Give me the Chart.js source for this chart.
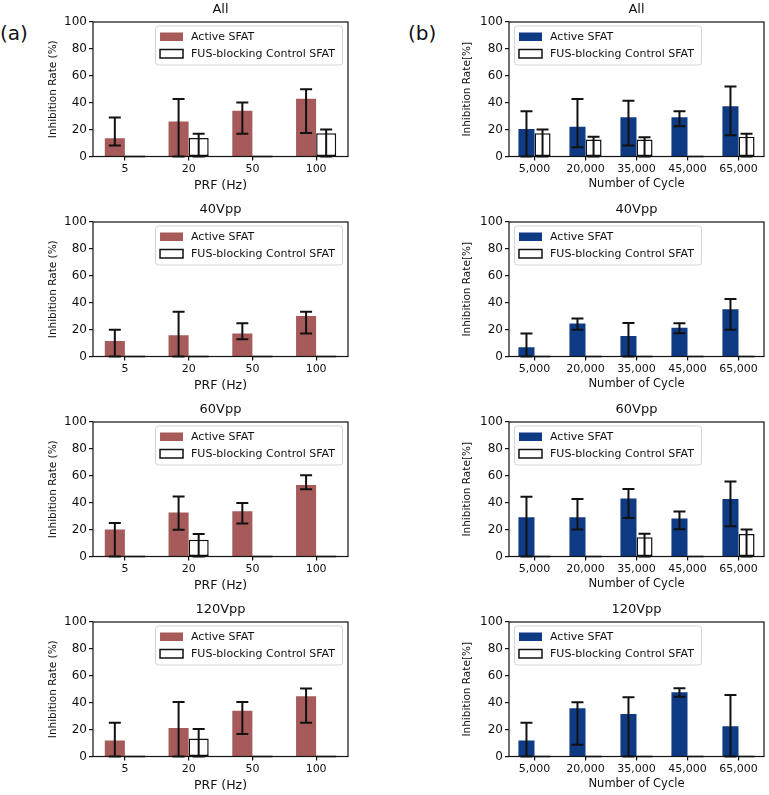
<!DOCTYPE html>
<html><head><meta charset="utf-8">
<script src="https://cdn.jsdelivr.net/npm/chart.js@4"></script>
<style>
html,body{margin:0;padding:0;background:#fff;}
body{width:769px;height:795px;position:relative;overflow:hidden;font-family:'DejaVu Sans',sans-serif;}
.cv{position:absolute;}
.lbl{position:absolute;font-size:20px;color:#111;line-height:24px;}
</style></head><body>
<div class="lbl" style="left:0px;top:21px">(a)</div>
<div class="lbl" style="left:408px;top:21px">(b)</div>
<canvas id="a0" class="cv" width="380" height="200" style="left:0;top:0"></canvas>
<canvas id="a1" class="cv" width="380" height="200" style="left:0;top:200px"></canvas>
<canvas id="a2" class="cv" width="380" height="200" style="left:0;top:400px"></canvas>
<canvas id="a3" class="cv" width="380" height="200" style="left:0;top:600px"></canvas>
<canvas id="b0" class="cv" width="384" height="200" style="left:385px;top:0"></canvas>
<canvas id="b1" class="cv" width="384" height="200" style="left:385px;top:200px"></canvas>
<canvas id="b2" class="cv" width="384" height="200" style="left:385px;top:400px"></canvas>
<canvas id="b3" class="cv" width="384" height="200" style="left:385px;top:600px"></canvas>
<script>
// ---------- data ----------
const prfLabels = ['5', '20', '50', '100'];
const cycleLabels = ['5,000', '20,000', '35,000', '45,000', '65,000'];
const panelTitles = ['All', '40Vpp', '60Vpp', '120Vpp'];
const seriesNames = ['Active SFAT', 'FUS-blocking Control SFAT'];
const yTickValues = [0, 20, 40, 60, 80, 100];

// (a) PRF panels
const prfAllActive      = [13.6, 26.0, 34.0, 43.0];
const prfAllActiveLow   = [8.2, 0, 17.0, 17.5];
const prfAllActiveHigh  = [29.0, 42.7, 40.2, 50.0];
const prfAllControl     = [0, 13.8, 0, 17.3];
const prfAllControlLow  = [0, 0, 0, 0];
const prfAllControlHigh = [0, 17.0, 0, 20.0];

const prf40Active      = [11.6, 15.8, 17.1, 30.2];
const prf40ActiveLow   = [0, 0, 12.9, 17.1];
const prf40ActiveHigh  = [19.8, 33.2, 24.8, 33.2];
const prf40Control     = [0, 0, 0, 0];
const prf40ControlLow  = [0, 0, 0, 0];
const prf40ControlHigh = [0, 0, 0, 0];

const prf60Active      = [20.1, 32.8, 33.6, 53.2];
const prf60ActiveLow   = [0, 19.9, 24.6, 50.0];
const prf60ActiveHigh  = [24.9, 44.7, 39.8, 60.5];
const prf60Control     = [0, 12.4, 0, 0];
const prf60ControlLow  = [0, 0, 0, 0];
const prf60ControlHigh = [0, 16.8, 0, 0];

const prf120Active      = [11.9, 21.1, 34.1, 44.8];
const prf120ActiveLow   = [0, 0, 16.7, 25.1];
const prf120ActiveHigh  = [25.1, 40.5, 40.5, 50.5];
const prf120Control     = [0, 13.4, 0, 0];
const prf120ControlLow  = [0, 0, 0, 0];
const prf120ControlHigh = [0, 20.4, 0, 0];

// (b) Number of cycle panels
const cycAllActive      = [20.5, 22.2, 29.1, 29.1, 37.3];
const cycAllActiveLow   = [0, 6.9, 8.1, 22.5, 15.8];
const cycAllActiveHigh  = [33.6, 42.7, 41.5, 33.6, 52.0];
const cycAllControl     = [17.3, 12.6, 12.6, 0, 14.6];
const cycAllControlLow  = [0, 0, 0, 0, 0];
const cycAllControlHigh = [20.0, 14.6, 14.3, 0, 17.0];

const cyc40Active      = [6.9, 24.5, 15.3, 21.3, 35.1];
const cyc40ActiveLow   = [0, 19.8, 0, 17.3, 19.8];
const cyc40ActiveHigh  = [17.1, 28.2, 25.0, 24.8, 42.8];
const cyc40Control     = [0, 0, 0, 0, 0];
const cyc40ControlLow  = [0, 0, 0, 0, 0];
const cyc40ControlHigh = [0, 0, 0, 0, 0];

const cyc60Active      = [29.1, 29.1, 43.2, 28.2, 42.8];
const cyc60ActiveLow   = [0, 20.1, 28.6, 20.2, 22.4];
const cyc60ActiveHigh  = [44.5, 42.8, 50.2, 33.4, 55.8];
const cyc60Control     = [0, 0, 14.4, 0, 16.8];
const cyc60ControlLow  = [0, 0, 0, 0, 0];
const cyc60ControlHigh = [0, 0, 16.9, 0, 20.0];

const cyc120Active      = [11.9, 35.8, 31.6, 47.8, 22.4];
const cyc120ActiveLow   = [0, 8.7, 0, 44.5, 0];
const cyc120ActiveHigh  = [25.1, 40.3, 44.0, 50.7, 45.8];
const cyc120Control     = [0, 0, 0, 0, 0];
const cyc120ControlLow  = [0, 0, 0, 0, 0];
const cyc120ControlHigh = [0, 0, 0, 0, 0];

// ---------- styles ----------
const FONT = "'DejaVu Sans', sans-serif";
const INK = '#111111';
const prfColor = '#a65a5a';
const cycColor = '#0f3b84';

// ---------- plugins ----------
const framePlugin = {
  id: 'frame',
  afterDatasetsDraw(chart) {
    const {ctx, chartArea: a} = chart;
    const y = chart.scales.y;
    const y0 = y.getPixelForValue(0);
    ctx.save();
    // zero-height outlined bars drawn as a flat edge line
    chart.data.datasets.forEach((ds, di) => {
      if (!ds.borderWidth) return;
      const meta = chart.getDatasetMeta(di);
      meta.data.forEach((el, i) => {
        if (ds.data[i] === 0) {
          ctx.strokeStyle = INK; ctx.lineWidth = 1.6;
          ctx.beginPath();
          ctx.moveTo(el.x - el.width / 2, y0);
          ctx.lineTo(el.x + el.width / 2, y0);
          ctx.stroke();
        }
      });
    });
    // error bars
    chart.data.datasets.forEach((ds, di) => {
      const meta = chart.getDatasetMeta(di);
      meta.data.forEach((el, i) => {
        const lo = ds.errLow[i], hi = ds.errHigh[i];
        if (hi === lo) return;
        const yl = y.getPixelForValue(lo), yh = y.getPixelForValue(hi);
        const cap = 6;
        ctx.strokeStyle = INK; ctx.lineWidth = 2;
        ctx.beginPath();
        ctx.moveTo(el.x, yl); ctx.lineTo(el.x, yh);
        ctx.moveTo(el.x - cap, yh); ctx.lineTo(el.x + cap, yh);
        ctx.moveTo(el.x - cap, yl); ctx.lineTo(el.x + cap, yl);
        ctx.stroke();
      });
    });
    ctx.restore();
  },
  afterDraw(chart, args, opts) {
    const {ctx, chartArea: a} = chart;
    ctx.save();
    ctx.strokeStyle = INK; ctx.lineWidth = 1.2;
    ctx.strokeRect(a.left, a.top, a.width, a.height);
    // legend box
    ctx.font = '11px ' + FONT;
    const dss = chart.data.datasets;
    const tw = Math.max(...dss.map(d => ctx.measureText(d.label).width));
    const w = 5 + 23 + 8 + tw + 7, h = 39;
    const x = opts.side === 'right' ? a.right - 6 - w : a.left + 5;
    const y = a.top + 3.5;
    ctx.beginPath();
    ctx.roundRect(x + 0.5, y + 0.5, w, h, 3);
    ctx.fillStyle = 'rgba(255,255,255,0.85)';
    ctx.fill();
    ctx.strokeStyle = '#d4d4d4'; ctx.lineWidth = 1;
    ctx.stroke();
    dss.forEach((d, i) => {
      const py = y + 7 + i * 17;
      ctx.fillStyle = d.backgroundColor;
      ctx.fillRect(x + 5, py, 23, 8.5);
      if (d.borderWidth) {
        ctx.strokeStyle = INK; ctx.lineWidth = 1.5;
        ctx.strokeRect(x + 5, py, 23, 8.5);
      }
      ctx.fillStyle = INK;
      ctx.textBaseline = 'middle';
      ctx.textAlign = 'left';
      ctx.fillText(d.label, x + 36, py + 5);
    });
    ctx.restore();
  }
};

function makePanel(id, col, title, labels, act, actLo, actHi, ctl, ctlLo, ctlHi) {
  const isA = col === 'a';
  const color = isA ? prfColor : cycColor;
  new Chart(document.getElementById(id), {
    type: 'bar',
    data: {
      labels: labels,
      datasets: [
        { label: seriesNames[0], data: act, errLow: actLo, errHigh: actHi,
          backgroundColor: color, borderWidth: 0,
          categoryPercentage: 0.63, barPercentage: 1.0 },
        { label: seriesNames[1], data: ctl, errLow: ctlLo, errHigh: ctlHi,
          backgroundColor: '#ffffff', borderColor: INK, borderWidth: 1.5, borderSkipped: false,
          categoryPercentage: 0.63, barPercentage: 1.0 }
      ]
    },
    plugins: [framePlugin],
    options: {
      responsive: false, animation: false, devicePixelRatio: 1,
      layout: { padding: isA ? { left: 43, right: 32, top: 0, bottom: 2.5 }
                             : { left: 72, right: 5, top: 0, bottom: 5 } },
      plugins: {
        legend: { display: false },
        tooltip: { enabled: false },
        title: { display: true, text: title, fullSize: false, color: INK,
                 font: { family: FONT, size: 13, weight: 'normal' },
                 padding: { top: 2, bottom: 4.4 } },
        frame: { side: isA ? 'right' : 'left' }
      },
      scales: {
        x: {
          offset: true,
          grid: { offset: false, drawOnChartArea: false, drawTicks: true, tickLength: 4, color: INK, lineWidth: 1.2 },
          border: { display: false },
          ticks: { color: INK, font: { family: FONT, size: 11 }, padding: 2, maxRotation: 0 },
          title: { display: true, text: isA ? 'PRF (Hz)' : 'Number of Cycle', color: INK,
                   font: { family: FONT, size: isA ? 12.5 : 11.5 }, padding: { top: 0, bottom: 4 } },
          afterFit: s => { s.height = isA ? 41 : 38.5; }
        },
        y: {
          min: 0, max: 100,
          afterBuildTicks: s => { s.ticks = yTickValues.map(v => ({ value: v })); },
          grid: { drawOnChartArea: false, drawTicks: true, tickLength: 4, color: INK, lineWidth: 1.2 },
          border: { display: false },
          ticks: { color: INK, font: { family: FONT, size: 12 }, padding: 2 },
          title: { display: true, text: isA ? 'Inhibition Rate (%)' : 'Inhibition Rate[%]', color: INK,
                   font: { family: FONT, size: 10.5 }, padding: { top: 4, bottom: 4 } },
          afterFit: s => { s.width = isA ? 50 : 52; }
        }
      }
    }
  });
}

makePanel('a0', 'a', panelTitles[0], prfLabels, prfAllActive, prfAllActiveLow, prfAllActiveHigh, prfAllControl, prfAllControlLow, prfAllControlHigh);
makePanel('a1', 'a', panelTitles[1], prfLabels, prf40Active, prf40ActiveLow, prf40ActiveHigh, prf40Control, prf40ControlLow, prf40ControlHigh);
makePanel('a2', 'a', panelTitles[2], prfLabels, prf60Active, prf60ActiveLow, prf60ActiveHigh, prf60Control, prf60ControlLow, prf60ControlHigh);
makePanel('a3', 'a', panelTitles[3], prfLabels, prf120Active, prf120ActiveLow, prf120ActiveHigh, prf120Control, prf120ControlLow, prf120ControlHigh);
makePanel('b0', 'b', panelTitles[0], cycleLabels, cycAllActive, cycAllActiveLow, cycAllActiveHigh, cycAllControl, cycAllControlLow, cycAllControlHigh);
makePanel('b1', 'b', panelTitles[1], cycleLabels, cyc40Active, cyc40ActiveLow, cyc40ActiveHigh, cyc40Control, cyc40ControlLow, cyc40ControlHigh);
makePanel('b2', 'b', panelTitles[2], cycleLabels, cyc60Active, cyc60ActiveLow, cyc60ActiveHigh, cyc60Control, cyc60ControlLow, cyc60ControlHigh);
makePanel('b3', 'b', panelTitles[3], cycleLabels, cyc120Active, cyc120ActiveLow, cyc120ActiveHigh, cyc120Control, cyc120ControlLow, cyc120ControlHigh);
</script>
</body></html>
